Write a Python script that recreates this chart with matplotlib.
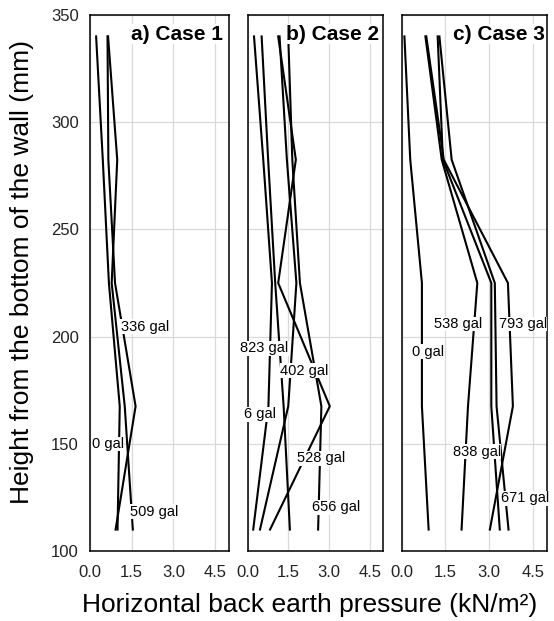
import matplotlib
matplotlib.use("Agg")
import matplotlib.pyplot as plt

plt.rcParams["font.family"] = ["Liberation Sans", "DejaVu Sans"]

# heights of the measuring points (mm)
heights = [340, 282.5, 225, 167.5, 110]

# a) Case 1 (kN/m2)
case1_0gal = [0.22, 0.46, 0.68, 1.07, 0.99]
case1_336gal = [0.63, 0.66, 0.90, 1.64, 0.92]
case1_509gal = [0.65, 0.98, 0.78, 1.25, 1.54]

# b) Case 2
case2_6gal = [0.24, 0.58, 0.90, 0.77, 0.21]
case2_823gal = [0.52, 0.76, 1.02, 1.33, 1.56]
case2_528gal = [1.13, 1.78, 1.13, 3.03, 0.83]
case2_402gal = [1.18, 1.45, 1.80, 1.50, 0.46]
case2_656gal = [1.50, 1.65, 1.93, 2.72, 2.60]

# c) Case 3
case3_0gal = [0.10, 0.30, 0.70, 0.70, 0.93]
case3_538gal = [0.82, 1.38, 2.60, 2.28, 2.06]
case3_793gal = [0.85, 1.45, 3.65, 3.82, 3.03]
case3_838gal = [1.24, 1.42, 3.08, 3.08, 3.37]
case3_671gal = [1.30, 1.72, 3.20, 3.26, 3.67]

titles = ["a) Case 1", "b) Case 2", "c) Case 3"]
series = [
    [case1_0gal, case1_336gal, case1_509gal],
    [case2_6gal, case2_823gal, case2_528gal, case2_402gal, case2_656gal],
    [case3_0gal, case3_538gal, case3_793gal, case3_838gal, case3_671gal],
]

# data label texts and where they sit (x in kN/m2, y in mm)
label_text = [
    ["336 gal", "0 gal", "509 gal"],
    ["823 gal", "402 gal", "6 gal", "528 gal", "656 gal"],
    ["538 gal", "793 gal", "0 gal", "838 gal", "671 gal"],
]
label_pos = [
    [(1.97, 204.6), (0.64, 149.9), (2.30, 118.3)],
    [(0.62, 194.5), (2.09, 184.0), (0.46, 163.8), (2.71, 143.3), (3.28, 120.4)],
    [(1.95, 205.9), (4.16, 205.9), (0.90, 193.0), (2.58, 146.3), (4.24, 124.6)],
]
title_x = [4.78, 4.84, 4.93]

W, H = 554, 621
# panel boxes in pixels: left, right
boxes = [(90, 229), (247.5, 383.3), (401.5, 547.3)]
top_px, bot_px = 15, 551

fig = plt.figure(figsize=(W / 100, H / 100), dpi=100)

for i, (l, r) in enumerate(boxes):
    ax = fig.add_axes([l / W, 1 - bot_px / H, (r - l) / W, (bot_px - top_px) / H])
    for vals in series[i]:
        ax.plot(vals, heights, color="black", lw=1.5, zorder=3)
    ax.set_xlim(0, 5)
    ax.set_ylim(100, 350)
    ax.set_xticks([0, 1.5, 3.0, 4.5])
    ax.set_xticklabels(["0.0", "1.5", "3.0", "4.5"])
    ax.set_yticks(range(100, 351, 50))
    ax.grid(True, color="#d9d9d9", lw=0.9, zorder=0)
    ax.set_axisbelow(True)
    ax.tick_params(length=0, labelsize=12, colors="#222222")
    ax.tick_params(axis="x", pad=10)
    ax.tick_params(axis="y", pad=8)
    if i > 0:
        ax.tick_params(labelleft=False)
    for s in ax.spines.values():
        s.set_color("black")
        s.set_linewidth(1.1)

    ax.text(title_x[i], 341, titles[i], ha="right", va="center",
            fontsize=15, fontweight="bold", zorder=5,
            bbox=dict(facecolor="white", edgecolor="none", pad=0.5))

    for txt, (lx, ly) in zip(label_text[i], label_pos[i]):
        ax.text(lx, ly, txt, ha="center", va="center", fontsize=10.5,
                zorder=5, clip_on=False,
                bbox=dict(facecolor="white", edgecolor="none", pad=0.3))

fig.text(22 / W, 1 - 272 / H, "Height from the bottom of the wall (mm)",
         rotation=90, ha="center", va="center", fontsize=19)
fig.text(310 / W, 1 - 605 / H, "Horizontal back earth pressure (kN/m²)",
         ha="center", va="center", fontsize=19)

fig.savefig("out.png", dpi=100)
